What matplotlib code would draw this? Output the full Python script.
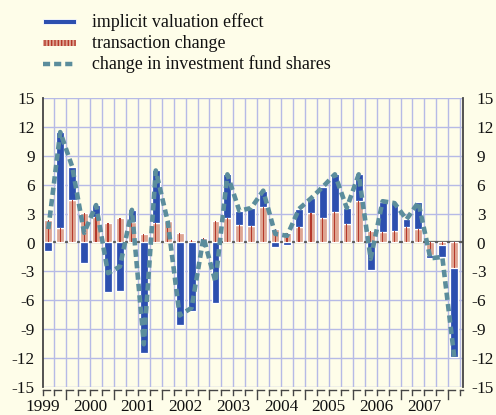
import matplotlib
matplotlib.use("Agg")
import matplotlib.pyplot as plt
import matplotlib.transforms as mtransforms
from matplotlib.patches import Rectangle
from matplotlib.lines import Line2D

# --- data (quarterly, 1999 Q3 .. 2008 Q1) ---
years = ['1999', '2000', '2001', '2002', '2003', '2004', '2005', '2006', '2007']
transaction = [2.3, 1.5, 4.4, 3.1, 2.7, 2.0, 2.6, 2.1, 0.9, 2.0,
               2.2, 1.0, 0.3, 0.5, 2.2, 2.6, 1.8, 1.7, 3.7, 1.4,
               1.0, 1.6, 3.1, 2.5, 3.2, 1.9, 4.3, 1.2, 1.1, 1.2,
               1.6, 1.4, -1.3, -0.3, -2.7]
valuation = [-0.9, 10.0, 3.5, -2.1, 1.2, -5.2, -5.1, 1.3, -11.5, 5.5,
             0.0, -8.6, -7.1, 0.0, -6.3, 4.5, 1.5, 1.9, 1.7, -0.5,
             -0.3, 1.9, 1.5, 3.3, 3.9, 1.7, 2.8, -2.9, 3.1, 2.9,
             0.8, 2.8, -0.35, -1.2, -9.2]
fund_shares = [1.4, 11.5, 7.9, 1.0, 3.9, -3.2, -2.5, 3.4, -10.6, 7.5,
               2.2, -7.6, -6.8, 0.5, -4.1, 7.1, 3.3, 3.6, 5.4, 0.9,
               0.7, 3.5, 4.6, 5.8, 7.1, 3.6, 7.1, -1.7, 4.3, 4.1,
               2.4, 4.2, -1.65, -1.5, -11.9]
labels = ['implicit valuation effect', 'transaction change',
          'change in investment fund shares']
yticks = [-15, -12, -9, -6, -3, 0, 3, 6, 9, 12, 15]

# --- style ---
BG = '#fefde9'
GRID = '#b6bae6'
BLUE = '#2c4faf'
SALMON = '#dea592'
RED = '#b5382a'
TEAL = '#5b8d9c'
DARK = '#454545'

W, H = 496, 415
plt.rcParams['font.family'] = ['Liberation Serif', 'DejaVu Serif']
plt.rcParams['axes.unicode_minus'] = False
plt.rcParams['hatch.linewidth'] = 1.0


def fx(px):
    return px / W


def fy(py):
    return 1 - py / H


fig = plt.figure(figsize=(W / 100, H / 100), dpi=100, facecolor=BG)
ax = fig.add_axes([fx(43.3), fy(386.5), 419.4 / W, 288 / H])
ax.set_facecolor(BG)

x = list(range(len(transaction)))
xmin, xmax = -0.42, 34.71
ax.set_xlim(xmin, xmax)
ax.set_ylim(-15, 15)

# grid
for k in range(len(x)):
    ax.axvline(k + 0.5, color=GRID, lw=1.0, zorder=0)
for v in yticks:
    if v != 0:
        ax.axhline(v, color=GRID, lw=1.0, zorder=0)
ax.axhline(0, color='#5a5a5a', lw=1.6, zorder=1)

# stacked bars, positive parts up, negative parts down
val_bottom = [max(t, 0) if v >= 0 else min(t, 0) for t, v in zip(transaction, valuation)]
ax.bar(x, transaction, width=0.66, color=SALMON, edgecolor='white', lw=0.9, zorder=2)
ax.bar(x, transaction, width=0.1, color=RED, lw=0, zorder=3)
ax.bar(x, valuation, bottom=val_bottom, width=0.66, color=BLUE,
       edgecolor='white', lw=0.9, zorder=2)

ax.plot(x, fund_shares, color=TEAL, lw=3.3, dashes=(1.6, 0.9),
        dash_capstyle='butt', zorder=4)

# frame
for side in ['top', 'bottom']:
    ax.spines[side].set_visible(False)
for side in ['left', 'right']:
    ax.spines[side].set_color(DARK)
    ax.spines[side].set_linewidth(1.3)

ax.set_yticks(yticks)
ax.set_yticklabels([str(v) for v in yticks])
ax.tick_params(axis='y', length=0, pad=6, labelsize=12.4, colors='#111111')
ax.set_xticks([])

# right-hand labels: digits left aligned, minus sign hanging
ytr = mtransforms.blended_transform_factory(fig.transFigure, ax.transData)
for v in yticks:
    ax.text(fx(476.7), v, str(abs(v)), transform=ytr, ha='left',
            va='center_baseline', fontsize=12.4, color='#111111')
    if v < 0:
        ax.text(fx(476.7), v, '-', transform=ytr, ha='right',
                va='center_baseline', fontsize=12.4, color='#111111')

# quarter ticks below the plot ("Γ" marks), longer at year starts
xtr = mtransforms.blended_transform_factory(ax.transData, fig.transFigure)
bounds = [xmin] + [k + 0.5 for k in range(len(x))]
for b in bounds:
    year_start = (b - 1.5) % 4 == 0
    bottom = 399 if year_start else 395
    ax.plot([b, b], [fy(389.5), fy(bottom)], color=DARK, lw=1.0,
            transform=xtr, clip_on=False)
    ax.plot([b, min(b + 0.6, xmax)], [fy(389.5), fy(389.5)], color=DARK, lw=1.0,
            transform=xtr, clip_on=False)

for i, yr in enumerate(years):
    ax.text(-0.5 + 4 * i, fy(411.2), yr, transform=xtr, ha='center',
            va='baseline', fontsize=12.4, color='#111111')

# legend
rows = [21.7, 43.3, 64.3]
fig.add_artist(Rectangle((fx(42.7), fy(rows[0] + 2.8)), 33.3 / W, 5.6 / H,
                         transform=fig.transFigure, facecolor=BLUE,
                         edgecolor='white', lw=0.6))
fig.add_artist(Rectangle((fx(42.7), fy(rows[1] + 2.8)), 33.3 / W, 5.6 / H,
                         transform=fig.transFigure, facecolor=SALMON,
                         edgecolor=RED, hatch='|||||', lw=0))
fig.add_artist(Line2D([fx(42.7), fx(76)], [fy(rows[2]), fy(rows[2])],
                      transform=fig.transFigure, color=TEAL, lw=3.2,
                      dashes=(1.6, 0.9), dash_capstyle='butt'))
for r, lab in zip(rows, labels):
    fig.text(fx(91.7), fy(r + 5.0), lab, ha='left', va='baseline',
             fontsize=12.9, color='#111111')

fig.savefig('out.png', dpi=100, facecolor=BG)
